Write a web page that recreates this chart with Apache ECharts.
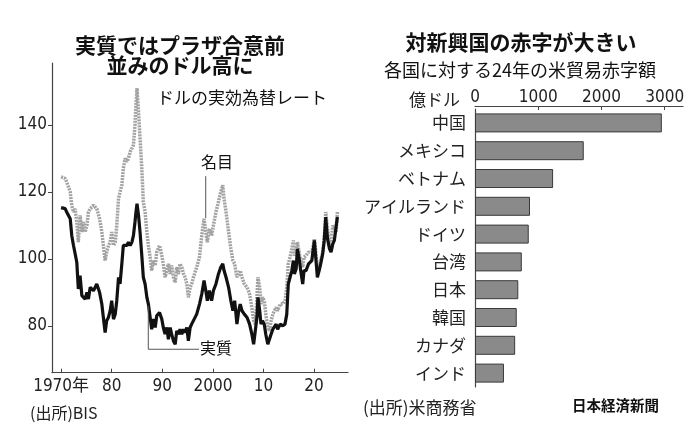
<!DOCTYPE html>
<html>
<head>
<meta charset="utf-8">
<script src="https://cdn.jsdelivr.net/npm/echarts@6/dist/echarts.min.js"></script>
<style>
html,body{margin:0;padding:0;background:#fff;}
#c{width:699px;height:423px;}
</style>
</head>
<body>
<div id="c"></div>
<script>
// ---- Left chart: dollar effective exchange rate ----
const years = [
  1970.0,1970.8,1971.1,1971.45,1971.8,1972.1,1972.45,1972.75,1973.1,1973.4,
  1973.75,1974.1,1974.4,1974.75,1975.1,1975.4,1975.75,1976.4,1977.05,1977.6,
  1978.05,1978.35,1978.7,1979.0,1979.35,1979.7,1980.0,1980.35,1980.7,1981.0,
  1981.35,1981.65,1982.0,1982.3,1982.65,1983.0,1983.3,1983.65,1984.0,1984.3,
  1984.6,1984.8,1985.0,1985.3,1985.6,1985.95,1986.25,1986.6,1986.95,1987.25,
  1987.6,1987.9,1988.25,1988.6,1988.9,1989.45,1989.9,1990.2,1990.55,1990.9,
  1991.2,1991.55,1991.85,1992.2,1992.55,1992.85,1993.2,1993.5,1993.85,1994.2,
  1994.5,1994.85,1995.15,1995.5,1995.8,1996.15,1996.8,1997.35,1997.8,1998.25,
  1998.6,1998.9,1999.3,1999.75,2000.1,2000.6,2001.1,2001.55,2001.95,2002.2,
  2002.6,2003.1,2003.55,2003.95,2004.3,2004.75,2005.1,2005.4,2005.75,2006.2,
  2006.75,2007.25,2007.7,2008.05,2008.4,2008.7,2008.9,2009.25,2009.5,2009.8,
  2010.15,2010.45,2010.85,2011.2,2011.5,2011.85,2012.15,2012.5,2012.8,2013.3,
  2013.8,2014.25,2014.6,2014.9,2015.25,2015.6,2015.9,2016.1,2016.45,2016.7,
  2017.05,2017.35,2017.75,2018.0,2018.4,2018.9,2019.2,2019.55,2019.85,2020.05,
  2020.35,2020.65,2021.0,2021.3,2021.7,2022.0,2022.3,2022.65,2023.05,2023.35,
  2023.7,2024.0,2024.35,2024.6
];
const real = [
  115.3,115,114,113.5,112,107,104,103.5,99,91,
  95,89,89.5,88,90,88,91.5,90.5,92.5,90,
  86.5,82.5,78,81.5,82.5,84.5,87.5,82,83.5,87.5,
  94.5,92.5,98.5,104,104,104,105,104,105,107,
  111,114,116.5,113,108,101,94.5,92.5,88.5,86.5,
  82.5,79,82,79.5,83,84,82,79.5,77.5,79.5,
  76,79.5,77.5,75.5,74.5,78.5,77.5,79,77.5,79,
  78,79.5,75.5,79.5,80.5,80.5,83.5,86.5,89.5,93.5,
  90.5,87.5,90.5,87.5,90.5,92.5,95.5,97.5,98.5,96.5,
  94.5,91.5,87.5,84.5,87.5,80.5,84.5,86.5,84.5,83.5,
  82.5,80.5,77.5,74.5,75,82.5,88.5,84.5,80.5,81.5,
  80.5,77.5,74.5,74,77.5,79,78.5,80.5,79,80.5,
  80,80.5,83.5,92.5,94.5,96.5,99.5,95.5,97,103,
  100,96.5,92.5,96.5,96.5,98.5,98.5,99.5,103,105.5,
  100,94.5,96.5,98.5,101.5,105.5,112.5,106,103,102,
  104.5,105.5,105.5,112.5
];
const nominal = [
  124.5,124,123,123.5,120,116,114,115,111,105,
  113,108,111,108,110,114,115,116,115,112,
  108,104,99.5,102,104,105,108,104,105,110,
  118,120,122,127,130,129,130,132,131.5,134,
  140,146,151,144,136,127,117,114,108,104,
  100.5,96.5,99.5,98,102,104,101,98.5,94.5,96.5,
  98.5,95.5,98,94.5,93,97.5,95.5,98.5,97.5,95.5,
  94.5,92.5,88.5,91.5,92.5,94.5,97.5,100.5,107,112,
  108,105,109,107,110,114,117,120,122,118,
  114,108,103,99.5,98.5,94.5,95.5,96.5,94.5,92.5,
  91.5,89.5,85.5,81.5,80.5,88.5,94.5,91.5,86.5,88.5,
  87.5,83.5,79.5,78.5,81.5,83.5,84.5,85.5,84.5,86.5,
  86.5,87.5,91.5,98.5,100.5,103,105.5,101,102,105,
  102,99.5,97.5,100.5,101,102,102,102,104,106,
  102,96.5,97.5,99.5,102,106,114,109,104,105.5,
  110,109,108,114
];
const xTickYears = [1970, 1980, 1990, 2000, 2010, 2020];
const xTickLabels = ['1970年', '80', '90', '2000', '10', '20'];
const yTicks = [80, 100, 120, 140];

// ---- Right chart: US trade deficit by country, 2024 (100 million USD) ----
const countries = ['中国', 'メキシコ', 'ベトナム', 'アイルランド', 'ドイツ', '台湾', '日本', '韓国', 'カナダ', 'インド'];
const deficits = [2955, 1720, 1235, 870, 850, 740, 685, 660, 635, 458];
const barTicks = [0, 1000, 2000, 3000];

const JP = "'Noto Sans CJK JP', 'Noto Sans', sans-serif";
const NUM = "'Liberation Sans Narrow', 'DejaVu Sans Condensed', 'Noto Sans CJK JP', sans-serif";
const AX = '#444';

const chart = echarts.init(document.getElementById('c'), null, {renderer: 'canvas'});

const realData = years.map((y, i) => [y, real[i]]);
const nomData = years.map((y, i) => [y, nominal[i]]);

chart.setOption({
  animation: false,
  backgroundColor: '#fff',
  grid: [
    {left: 52, right: 351, top: 63, bottom: 50.3},
    {left: 475, right: 16, top: 109, bottom: 36}
  ],
  xAxis: [
    {
      gridIndex: 0, type: 'value', min: 1968.2, max: 2026.7,
      axisLine: {show: true, lineStyle: {color: AX, width: 1.2}},
      axisTick: {show: true, inside: true, length: 4, customValues: xTickYears, lineStyle: {color: AX}},
      axisLabel: {
        customValues: xTickYears, margin: 5, color: '#222', fontSize: 17, fontFamily: NUM,
        formatter: v => xTickLabels[xTickYears.indexOf(Math.round(v))]
      },
      splitLine: {show: false}
    },
    {
      gridIndex: 1, type: 'value', position: 'top', min: 0, max: 3290, offset: 3,
      axisLine: {show: true, lineStyle: {color: AX, width: 1.2}},
      axisTick: {show: true, inside: true, length: 4, customValues: [1000, 2000, 3000], lineStyle: {color: AX}},
      axisLabel: {
        customValues: barTicks, margin: 0, color: '#222', fontSize: 17, fontFamily: NUM,
        formatter: v => String(Math.round(v))
      },
      splitLine: {show: false}
    }
  ],
  yAxis: [
    {
      gridIndex: 0, type: 'value', min: 66, max: 158.5,
      axisLine: {show: true, lineStyle: {color: AX, width: 1.2}},
      axisTick: {show: true, inside: false, length: 4, customValues: yTicks, lineStyle: {color: AX}},
      axisLabel: {customValues: yTicks, margin: 5, color: '#222', fontSize: 17, fontFamily: NUM},
      splitLine: {show: false}
    },
    {
      gridIndex: 1, type: 'category', inverse: true, data: countries,
      axisLine: {show: true, lineStyle: {color: AX, width: 1.2}},
      axisTick: {show: false},
      axisLabel: {margin: 9, color: '#222', fontSize: 17, fontFamily: JP},
      splitLine: {show: false}
    }
  ],
  series: [
    {
      name: '名目', type: 'line', xAxisIndex: 0, yAxisIndex: 0, data: nomData,
      showSymbol: false, symbol: 'none', z: 2,
      lineStyle: {color: '#a2a2a2', width: 3.5, type: [2, 1]}
    },
    {
      name: '実質', type: 'line', xAxisIndex: 0, yAxisIndex: 0, data: realData,
      showSymbol: false, symbol: 'none', z: 3,
      lineStyle: {color: '#111', width: 3.2}
    },
    {
      name: '赤字額', type: 'bar', xAxisIndex: 1, yAxisIndex: 1, data: deficits,
      barWidth: 19,
      itemStyle: {color: '#8a8a8a', borderColor: '#3a3a3a', borderWidth: 1}
    }
  ]
});

function px(p) { return chart.convertToPixel({gridIndex: 0}, p); }
const nTop = px([1998.58, 124.7]), nBot = px([1998.58, 112.2]);
const rTop = px([1987.23, 86]), rBot = px([1987.23, 73]), rEnd = px([1997.25, 73]);

const txt = (text, x, y, size, opt) => Object.assign({
  type: 'text', x: x, y: y,
  style: Object.assign({text: text, font: size + 'px ' + JP, fill: '#111', textAlign: 'left', textVerticalAlign: 'middle'}, opt || {})
});

chart.setOption({
  graphic: [
    txt('実質ではプラザ合意前', 180, 45, 21, {textAlign: 'center', font: 'bold 21px ' + JP}),
    txt('並みのドル高に', 180, 65.5, 21, {textAlign: 'center', font: 'bold 21px ' + JP}),
    txt('ドルの実効為替レート', 157, 98, 17),
    txt('対新興国の赤字が大きい', 521, 42, 21, {textAlign: 'center', font: 'bold 21px ' + JP}),
    txt('各国に対する24年の米貿易赤字額', 520, 70, 18, {textAlign: 'center'}),
    txt('億ドル', 460, 100, 17, {textAlign: 'right', fill: '#222'}),
    txt('(出所)BIS', 30, 412.5, 16, {fill: '#222'}),
    txt('(出所)米商務省', 363, 408, 17, {fill: '#222'}),
    txt('日本経済新聞', 572, 405, 14.5, {font: 'bold 14.5px ' + JP}),
    txt('名目', 217, 161.5, 16, {textAlign: 'center'}),
    txt('実質', 200, 348, 16),
    {type: 'line', shape: {x1: nTop[0], y1: nTop[1], x2: nBot[0], y2: nBot[1]}, style: {stroke: '#555', lineWidth: 1}, z: 10},
    {type: 'polyline', shape: {points: [rTop, rBot, rEnd]}, style: {stroke: '#555', lineWidth: 1, fill: null}, z: 10}
  ]
});
</script>
</body>
</html>
